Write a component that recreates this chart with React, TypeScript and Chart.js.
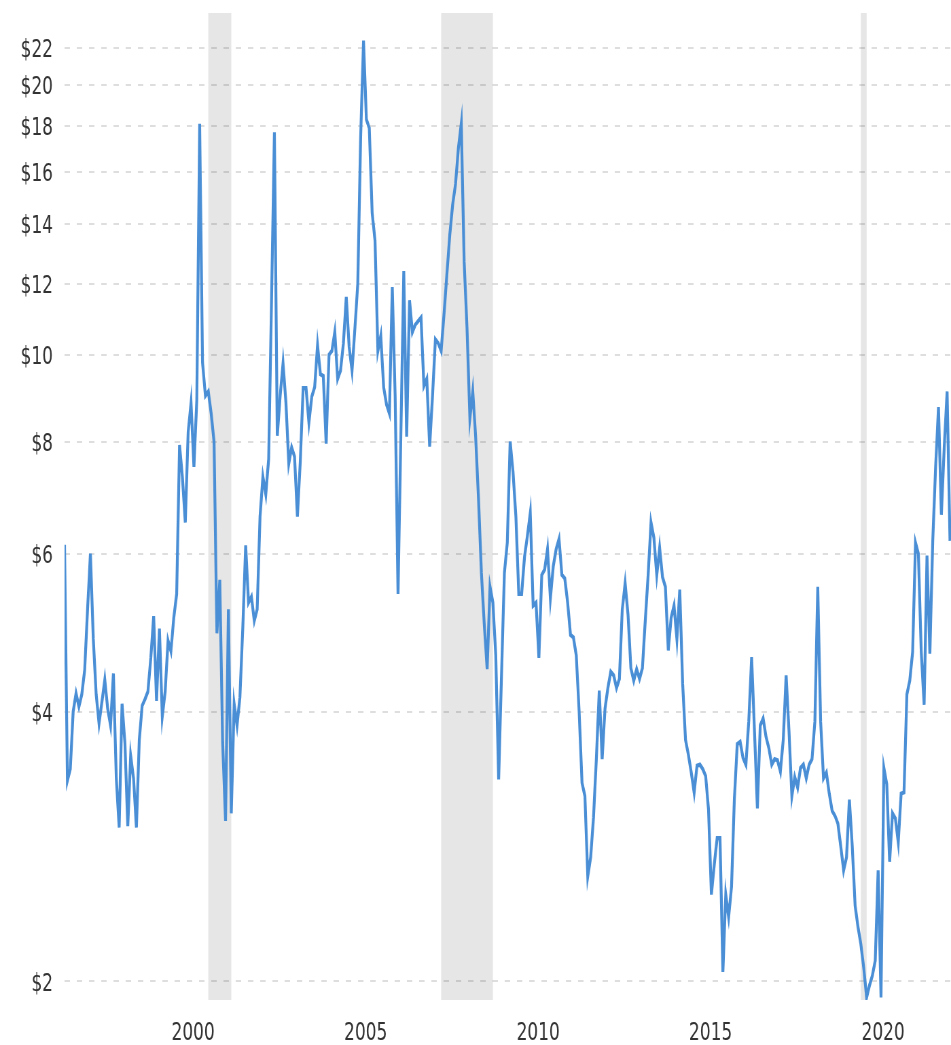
import React, { useEffect, useRef } from "react";
import { Chart, registerables } from "chart.js";

Chart.register(...registerables);

// ---- Data (monthly, inflation-adjusted natural gas price, USD) ----
const START_YEAR = 1997;

const prices1997to2001 = [
  6.14, 3.35, 3.45, 4.0, 4.19, 4.05, 4.18, 4.45, 5.2, 6.0, 4.82, 4.18,
  3.88, 4.1, 4.34, 4.03, 3.86, 4.41, 3.37, 2.97, 4.08, 3.69, 2.98, 3.57,
  3.37, 2.97, 3.72, 4.06, 4.13, 4.21, 4.59, 5.11, 4.11, 4.95, 3.95, 4.21,
  4.8, 4.67, 5.09, 5.41, 7.93, 7.3, 6.5, 8.2, 8.83, 7.5, 8.9, 18.1,
  9.8, 9.0, 9.1, 8.6, 8.0, 4.89, 5.61, 3.69, 3.02, 5.2, 3.08, 4.08,
];

const prices2002to2006 = [
  3.86, 4.15, 4.96, 6.13, 5.29, 5.37, 5.05, 5.2, 6.6, 7.31, 6.99, 7.65,
  11.5, 17.7, 8.12, 9.0, 9.78, 8.85, 7.56, 7.88, 7.7, 6.6, 7.6, 9.18,
  9.18, 8.4, 8.98, 9.2, 10.25, 9.51, 9.47, 7.96, 10.0, 10.1, 10.6, 9.4,
  9.6, 10.3, 11.6, 10.2, 9.6, 10.7, 12.0, 17.5, 22.4, 18.3, 17.9, 14.4,
  13.4, 10.1, 10.5, 9.2, 8.8, 8.6, 11.9, 9.0, 5.41, 8.2, 12.4, 8.1,
];

const prices2007to2011 = [
  11.5, 10.6, 10.8, 10.9, 11.0, 9.23, 9.4, 7.9, 9.0, 10.4, 10.3, 10.1,
  11.1, 12.3, 13.6, 14.7, 15.5, 17.0, 18.1, 12.7, 10.7, 8.5, 9.1, 8.1,
  6.9, 5.71, 5.0, 4.46, 5.51, 5.29, 4.62, 3.36, 4.4, 5.71, 6.17, 8.0,
  7.4, 6.6, 5.41, 5.41, 5.95, 6.28, 6.66, 5.25, 5.29, 4.59, 5.68, 5.76,
  6.07, 5.35, 5.81, 6.07, 6.23, 5.68, 5.63, 5.29, 4.87, 4.84, 4.62, 4.0,
];

const prices2012to2016 = [
  3.33, 3.22, 2.62, 2.75, 3.05, 3.55, 4.22, 3.54, 4.03, 4.25, 4.43, 4.39,
  4.25, 4.35, 5.2, 5.56, 5.13, 4.47, 4.33, 4.46, 4.35, 4.47, 5.05, 5.68,
  6.5, 6.25, 5.68, 6.09, 5.65, 5.51, 4.68, 5.09, 5.25, 4.82, 5.47, 4.3,
  3.72, 3.58, 3.42, 3.25, 3.48, 3.49, 3.45, 3.39, 3.11, 2.5, 2.7, 2.89,
  2.89, 2.05, 2.5, 2.36, 2.55, 3.2, 3.68, 3.7, 3.55, 3.49, 3.9, 4.6,
];

const prices2017to2022 = [
  3.8, 3.12, 3.86, 3.93, 3.75, 3.64, 3.49, 3.54, 3.53, 3.43, 3.72, 4.39,
  3.8, 3.22, 3.38, 3.29, 3.46, 3.49, 3.37, 3.49, 3.54, 3.9, 5.51, 3.9,
  3.37, 3.42, 3.24, 3.1, 3.06, 3.0, 2.83, 2.66, 2.75, 3.19, 2.83, 2.43,
  2.3, 2.2, 2.07, 1.92, 1.98, 2.03, 2.11, 2.66, 1.92, 3.46, 3.32, 2.72,
  3.08, 3.04, 2.86, 3.24, 3.25, 4.18, 4.33, 4.66, 6.17, 6.0, 4.66, 4.07,
  5.97, 4.64, 6.2, 7.5, 8.74, 6.63, 7.9, 9.1, 6.2,
];

const yTickValues = [2, 4, 6, 8, 10, 12, 14, 16, 18, 20, 22];
const xTickYears = [2000, 2005, 2010, 2015, 2020];

// recessions as [start, end] in decimal years
const recessionStarts = [2001 + 2 / 12, 2007 + 11 / 12, 2020 + 1 / 12];
const recessionEnds = [2001 + 10 / 12, 2009 + 5 / 12, 2020 + 3 / 12];

const X_MIN = 1997;
const X_MAX = 2022.696;
const Y_MIN = 1.907;
const Y_MAX = 24.05;

// canvas is drawn wide and squeezed horizontally to match the narrow glyphs
const VIEW_W = 951;
const VIEW_H = 1045;
const CANVAS_W = 1400;
const SCALE_X = VIEW_W / CANVAS_W;

const recessionPlugin = {
  id: "recessions",
  beforeDraw(chart: any) {
    const { ctx, chartArea } = chart;
    const xs = chart.scales.x;
    ctx.save();
    ctx.fillStyle = "#e6e6e6";
    for (let i = 0; i < recessionStarts.length; i++) {
      const x1 = xs.getPixelForValue(recessionStarts[i]);
      const x2 = xs.getPixelForValue(recessionEnds[i]);
      ctx.fillRect(x1, chartArea.top, x2 - x1, chartArea.bottom - chartArea.top);
    }
    ctx.restore();
  },
};

export default function App() {
  const canvasRef = useRef<HTMLCanvasElement | null>(null);

  useEffect(() => {
    const canvas = canvasRef.current;
    if (!canvas) return;
    const all = [
      ...prices1997to2001,
      ...prices2002to2006,
      ...prices2007to2011,
      ...prices2012to2016,
      ...prices2017to2022,
    ];
    const points = all.map((v, i) => ({ x: START_YEAR + i / 12, y: v }));

    const font = { family: "'DejaVu Sans', Verdana, sans-serif", size: 25 };

    const chart = new Chart(canvas, {
      type: "line",
      data: {
        datasets: [
          {
            data: points,
            borderColor: "#4a8fd6",
            borderWidth: 4.2,
            pointRadius: 0,
            tension: 0,
            fill: false,
          },
        ],
      },
      options: {
        responsive: false,
        maintainAspectRatio: false,
        devicePixelRatio: 1,
        animation: false,
        layout: { padding: { top: 13, left: 0, right: 0, bottom: 0 } },
        plugins: { legend: { display: false }, tooltip: { enabled: false } },
        scales: {
          x: {
            type: "linear",
            min: X_MIN,
            max: X_MAX,
            bounds: "data",
            grid: { display: false, drawTicks: false },
            border: { display: false },
            afterFit: (scale: any) => {
              scale.height = 45;
              scale.paddingLeft = 0;
              scale.paddingRight = 0;
            },
            afterBuildTicks: (scale: any) => {
              scale.ticks = xTickYears.map((v) => ({ value: v }));
            },
            ticks: {
              autoSkip: false,
              maxRotation: 0,
              padding: 18,
              labelOffset: 37,
              color: "#333",
              font,
              callback: (v: any) => String(v),
            },
          },
          y: {
            type: "logarithmic",
            min: Y_MIN,
            max: Y_MAX,
            bounds: "data",
            grid: {
              color: "rgba(0,0,0,0.13)",
              lineWidth: 2,
              drawTicks: false,
            },
            border: { display: false, dash: [8, 10] },
            afterFit: (scale: any) => {
              scale.width = 95;
              scale.paddingTop = 0;
              scale.paddingBottom = 0;
            },
            afterBuildTicks: (scale: any) => {
              scale.ticks = yTickValues.map((v) => ({ value: v }));
            },
            ticks: {
              autoSkip: false,
              padding: 17,
              labelOffset: 3,
              color: "#333",
              font,
              callback: (v: any) => "$" + v,
            },
          },
        },
      },
      plugins: [recessionPlugin],
    });

    return () => {
      chart.destroy();
    };
  }, []);

  return (
    <div
      style={{
        position: "absolute",
        left: 0,
        top: 0,
        width: VIEW_W,
        height: VIEW_H,
        overflow: "hidden",
        background: "#fff",
      }}
    >
      <canvas
        ref={canvasRef}
        width={CANVAS_W}
        height={VIEW_H}
        style={{
          display: "block",
          width: CANVAS_W + "px",
          height: VIEW_H + "px",
          transform: `scaleX(${SCALE_X})`,
          transformOrigin: "0 0",
        }}
      />
    </div>
  );
}
